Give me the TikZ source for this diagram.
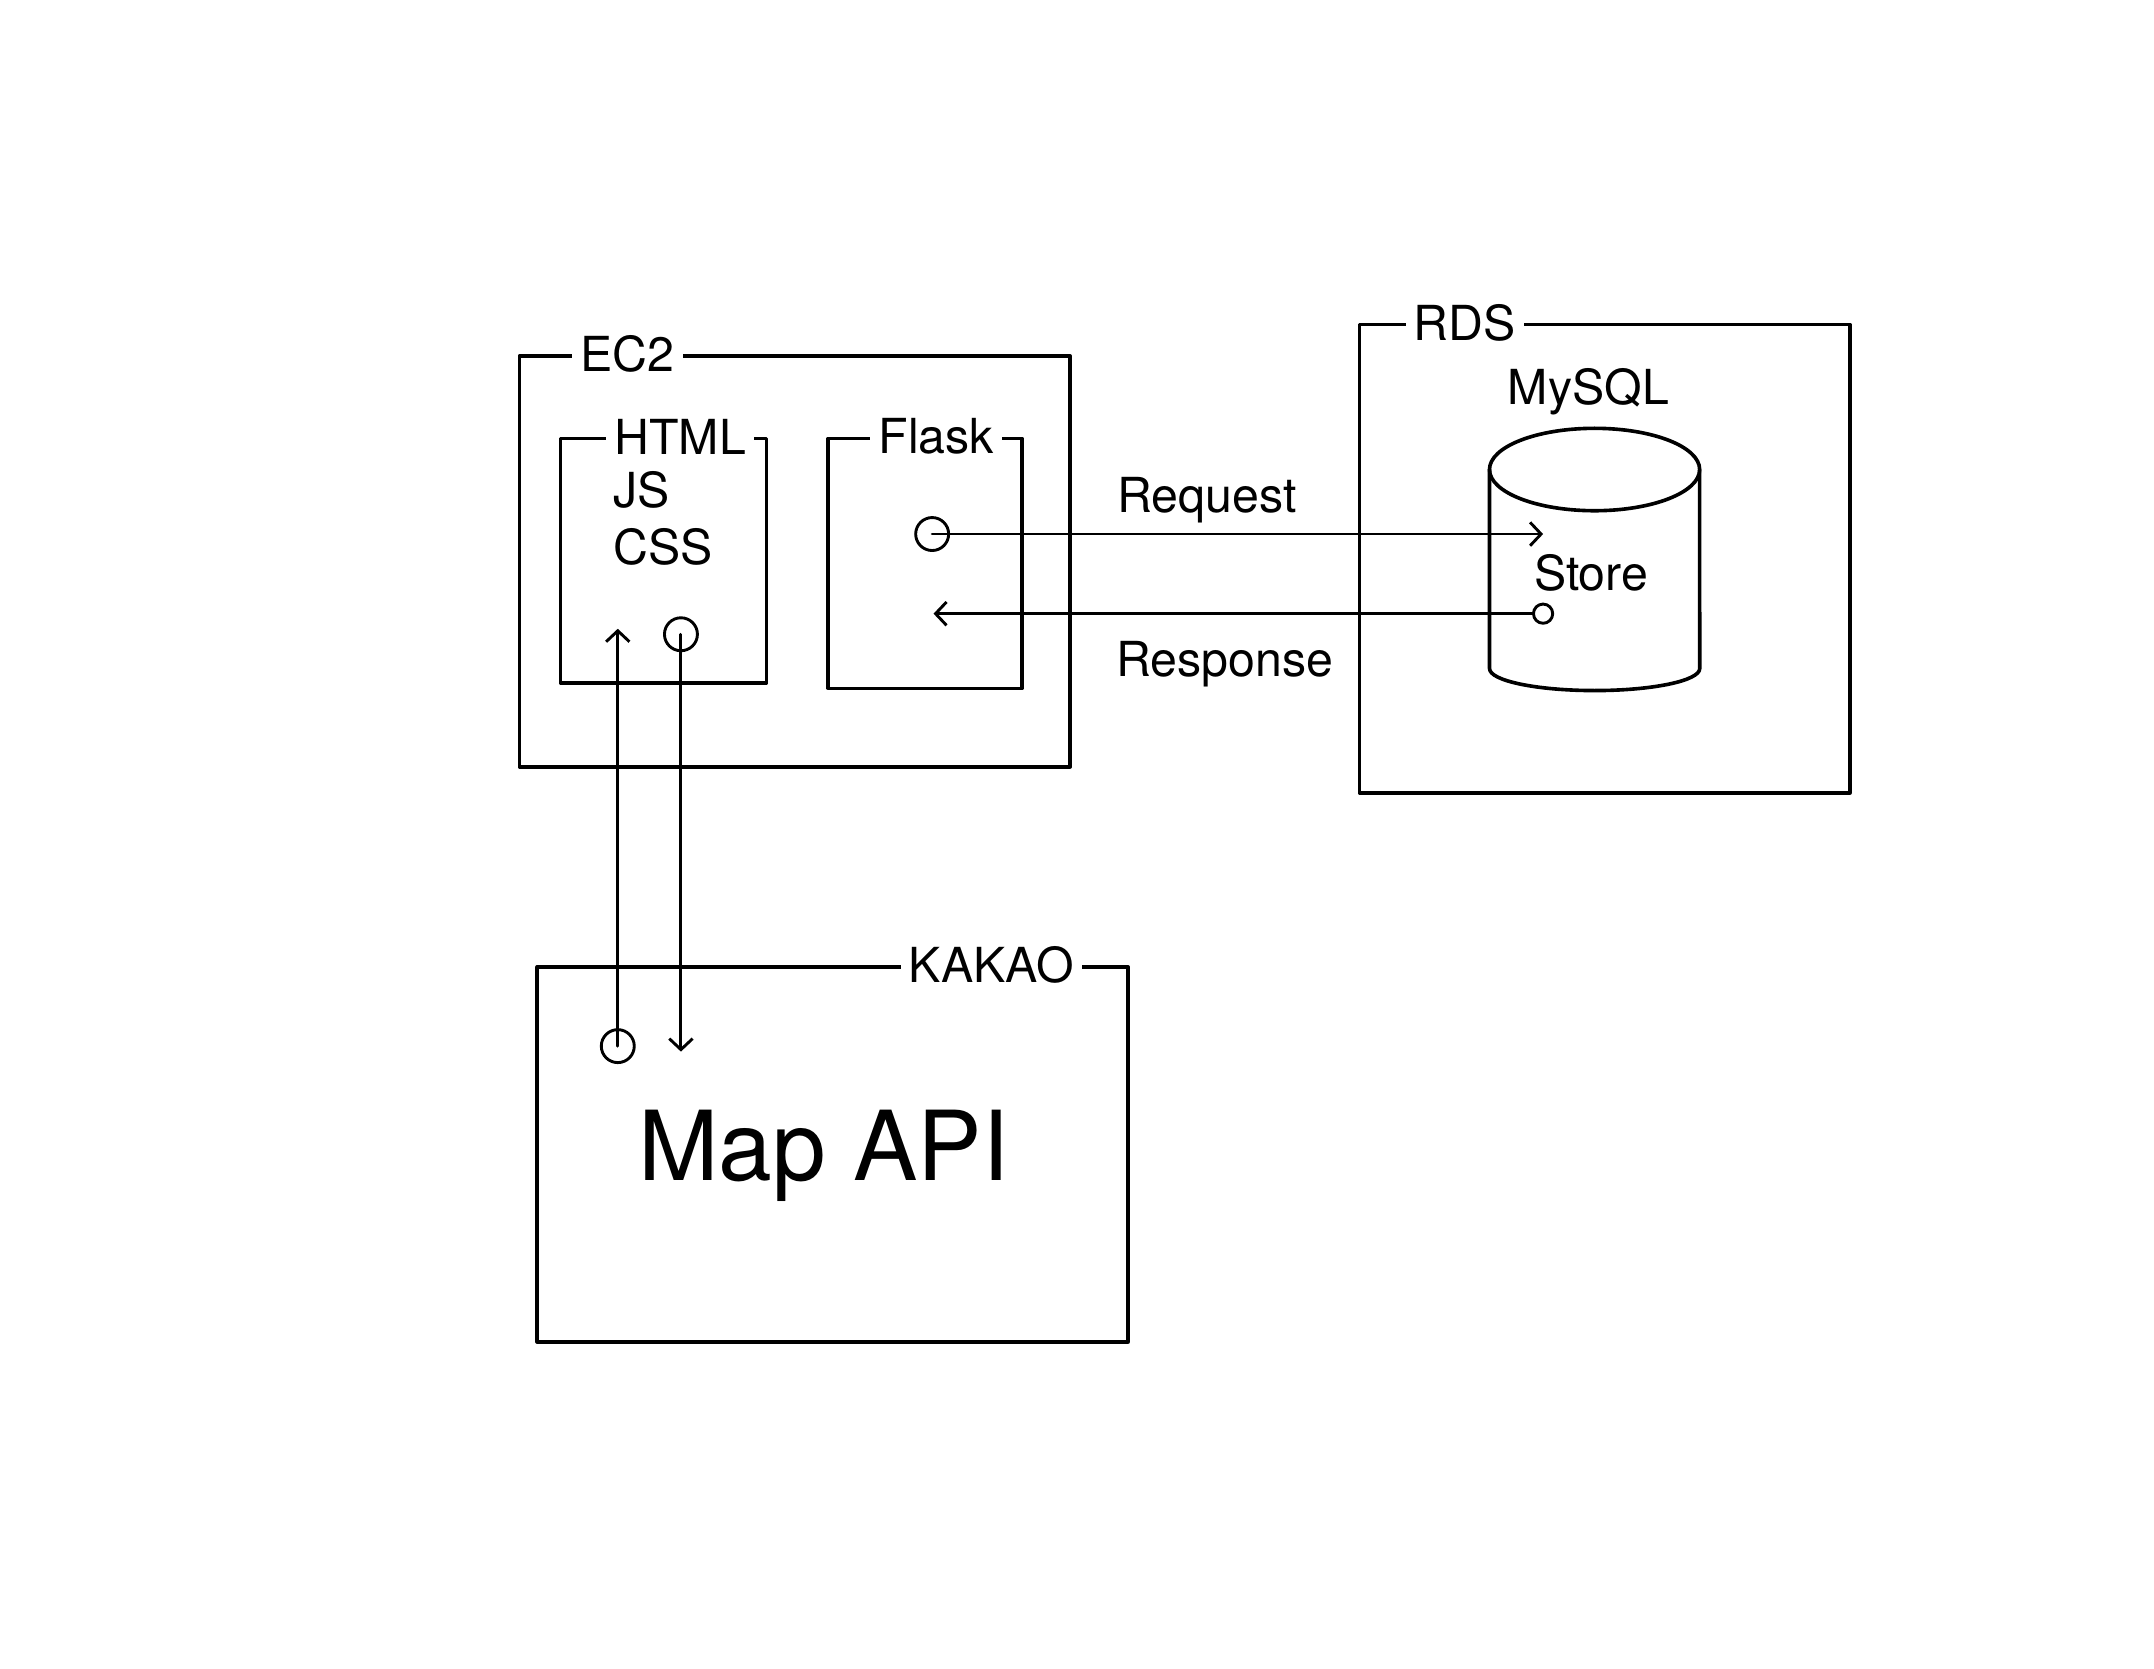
\documentclass[tikz,border=0pt]{standalone}
\usepackage{fontspec}
\setmainfont{TeX Gyre Heros}
\usetikzlibrary{arrows.meta}

\begin{document}
\begin{tikzpicture}[x=0.01cm, y=-0.01cm, line cap=round, line join=round,
	box/.style={draw, line width=0.75pt, inner sep=0, anchor=north west},
	tag/.style={fill=white, inner xsep=0.6mm, inner ysep=0, font=\fontsize{10}{12}\selectfont},
	txt/.style={anchor=base, inner sep=0, font=\fontsize{10}{12}\selectfont},
	port/.style={draw, circle, inner sep=0, minimum size=0.24cm, line width=0.6pt},
	arr/.style={-{Straight Barb[length=0.8mm, width=1.7mm]}, line width=0.6pt}]
	\useasboundingbox (0,0) rectangle (1569,1215);
	% boxes
	\node[box, minimum width=4.01cm, minimum height=2.99cm] (ec2) at (377,258) {};
	\node[box, minimum width=1.50cm, minimum height=1.78cm] (html) at (407,318) {};
	\node[box, minimum width=1.41cm, minimum height=1.82cm] (flask) at (602,318) {};
	\node[box, minimum width=3.57cm, minimum height=3.41cm] (rds) at (989,235) {};
	\node[box, minimum width=4.30cm, minimum height=2.73cm] (kakao) at (390,703) {};
	% labels on the edges
	\node[tag] (ec2lbl) at (457,258) {EC2};
	\node[tag, anchor=west] (htmllbl) at (441,318) {HTML};
	\node[tag] (flasklbl) at (682,318) {Flask};
	\node[tag] (rdslbl) at (1067,235) {RDS};
	\node[tag] (kakaolbl) at (722,703) {KAKAO};
	\node[txt, anchor=base west] (js) at (446,370) {JS};
	\node[txt, anchor=base west] (css) at (446,411) {CSS};
	\node[txt] (mysql) at (1157,295) {MySQL};
	% database
	\draw[line width=0.75pt] (1161.5,342) ellipse [x radius=0.765cm, y radius=0.30cm];
	\draw[line width=0.75pt] (1085,342) -- (1085,487) arc [start angle=180, end angle=360, x radius=0.765cm, y radius=0.16cm] -- (1238,342);
	\node[txt] (store) at (1159,430) {Store};
	\node[txt, font=\fontsize{20}{24}\selectfont] (mapapi) at (600,860) {Map API};
	% ports
	\node[port] (flaskout) at (679,389) {};
	\coordinate (storein) at (1124,389);
	\node[port, minimum size=0.14cm] (storeout) at (1124,447) {};
	\coordinate (flaskin) at (680,447);
	\node[port] (htmlout) at (496,462) {};
	\coordinate (htmlin) at (450,458);
	\node[port] (mapout) at (450,762) {};
	\coordinate (mapin) at (496,766);
	% connectors
	\draw[arr] (flaskout.center) -- (storein);
	\draw[arr] (storeout) -- (flaskin);
	\draw[arr] (mapout.center) -- (htmlin);
	\draw[arr] (htmlout.center) -- (mapin);
	\node[txt] (req) at (879,373) {Request};
	\node[txt] (resp) at (892,493) {Response};
\end{tikzpicture}
\end{document}
